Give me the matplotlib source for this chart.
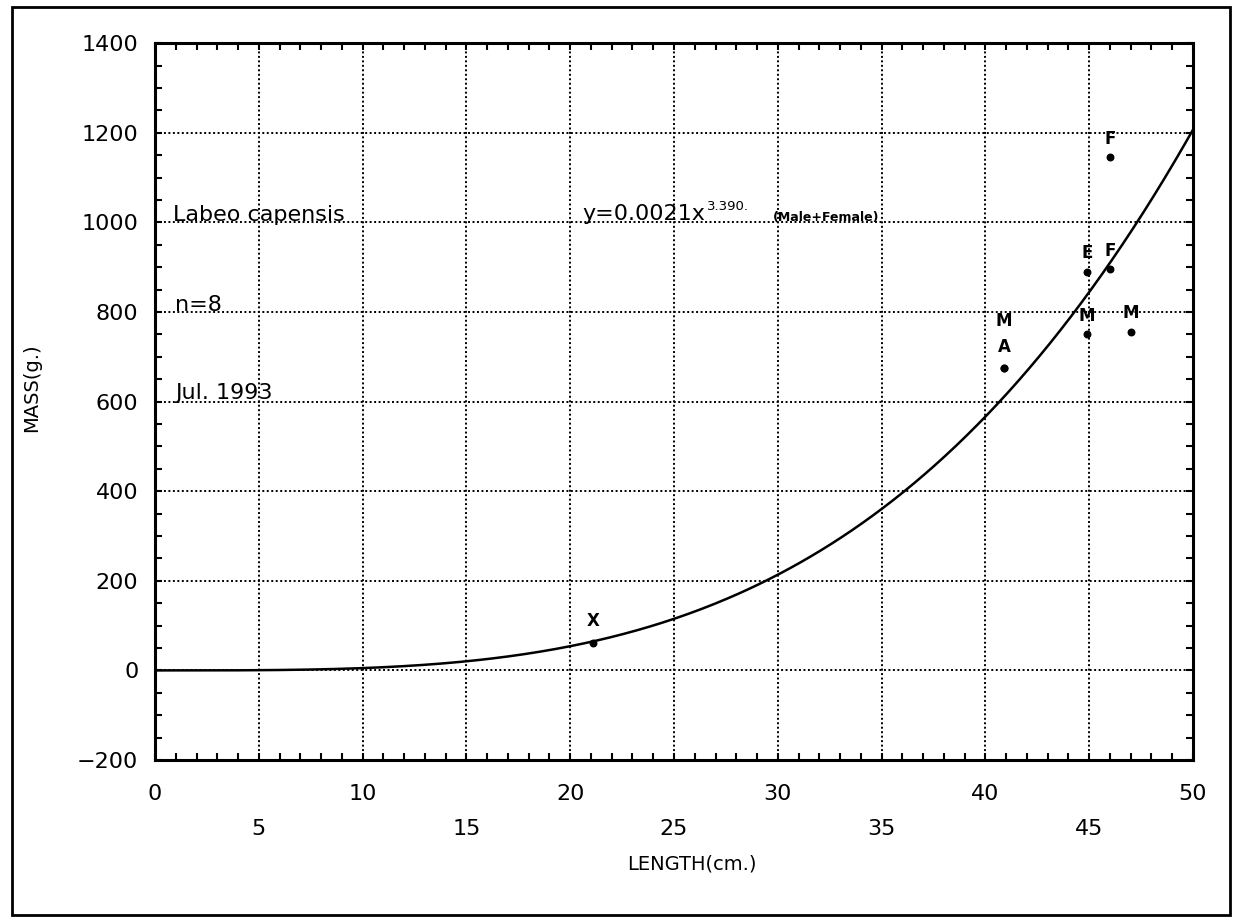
import numpy as np
import matplotlib
matplotlib.use("Agg")
import matplotlib.pyplot as plt
from matplotlib.patches import Rectangle

# fitted curve y = a * x^b
coef_a = 0.0021
coef_b = 3.390

# fish sampled (length cm, mass g) and the sex code printed above each dot
length = [21.1, 40.9, 40.9, 44.9, 44.9, 46.0, 46.0, 47.0]
mass = [62, 674, 674, 890, 750, 895, 1145, 755]
codes = ["X", "M", "A", "E", "M", "F", "F", "M"]
label_lift = [9, 28, 9, 7, 7, 7, 7, 7]   # points above the dot

x_ticks = [0, 5, 10, 15, 20, 25, 30, 35, 40, 45, 50]
y_ticks = [-200, 0, 200, 400, 600, 800, 1000, 1200, 1400]

plt.rcParams['font.family'] = ['DejaVu Sans']

fig = plt.figure(figsize=(12.35, 9.19), dpi=100)
ax = fig.add_axes([0.1255, 0.173, 0.8405, 0.780])

# outer frame round the whole page
fig.patches.append(Rectangle((0.0097, 0.0044), 0.9863, 0.988, transform=fig.transFigure,
                             fill=False, lw=2, ec="k"))

xs = np.linspace(0, 50, 400)
ax.plot(xs, coef_a * xs ** coef_b, color="k", lw=1.8, zorder=3)
ax.scatter(length, mass, s=22, color="k", zorder=4)
for x, y, c, d in zip(length, mass, codes, label_lift):
    ax.annotate(c, (x, y), xytext=(0, d), textcoords="offset points",
                ha="center", va="bottom", fontsize=12, fontweight="bold")

ax.set_xlim(0, 50)
ax.set_ylim(-200, 1400)
ax.set_xticks(x_ticks)
ax.set_xticklabels([str(t) if t % 10 == 0 else "\n" + str(t) for t in x_ticks])
ax.set_yticks(y_ticks)
ax.set_xticks(np.arange(0, 51, 1), minor=True)
ax.set_yticks(np.arange(-200, 1401, 50), minor=True)
ax.tick_params(which="both", direction="in", top=True, right=True, length=5, width=1.5)
ax.tick_params(axis="x", labelsize=16, pad=17)
ax.tick_params(axis="y", labelsize=16, pad=12)
for lbl in ax.get_xticklabels():
    lbl.set_linespacing(1.95)
for s in ax.spines.values():
    s.set_linewidth(2.2)

ax.grid(True, which="major", color="k", ls=(0, (1, 1.3)), lw=1.4)

ax.set_xlabel("LENGTH(cm.)", fontsize=14)
ax.set_ylabel("MASS(g.)", fontsize=14)
ax.xaxis.set_label_coords(0.517, -0.132)
ax.yaxis.set_label_coords(-0.11, 0.52)

ax.text(0.85, 1003, "Labeo capensis", fontsize=16, va="baseline", zorder=5)
ax.text(0.95, 803, "n=8", fontsize=16, va="baseline", zorder=5)
ax.text(0.95, 606, "Jul. 1993", fontsize=16, va="baseline", zorder=5)

eq = ax.text(20.6, 1006, "y=0.0021x", fontsize=16, va="baseline", zorder=5)
sup = ax.annotate("3.390.", xy=(1, 0.55), xycoords=eq, xytext=(1, 0),
                  textcoords="offset points", fontsize=9.5, va="bottom")
ax.annotate("(Male+Female)", xy=(1, 0), xycoords=sup, xytext=(17, -8),
            textcoords="offset points", fontsize=9, fontweight="bold", va="bottom")

fig.savefig("out.png", dpi=100)
